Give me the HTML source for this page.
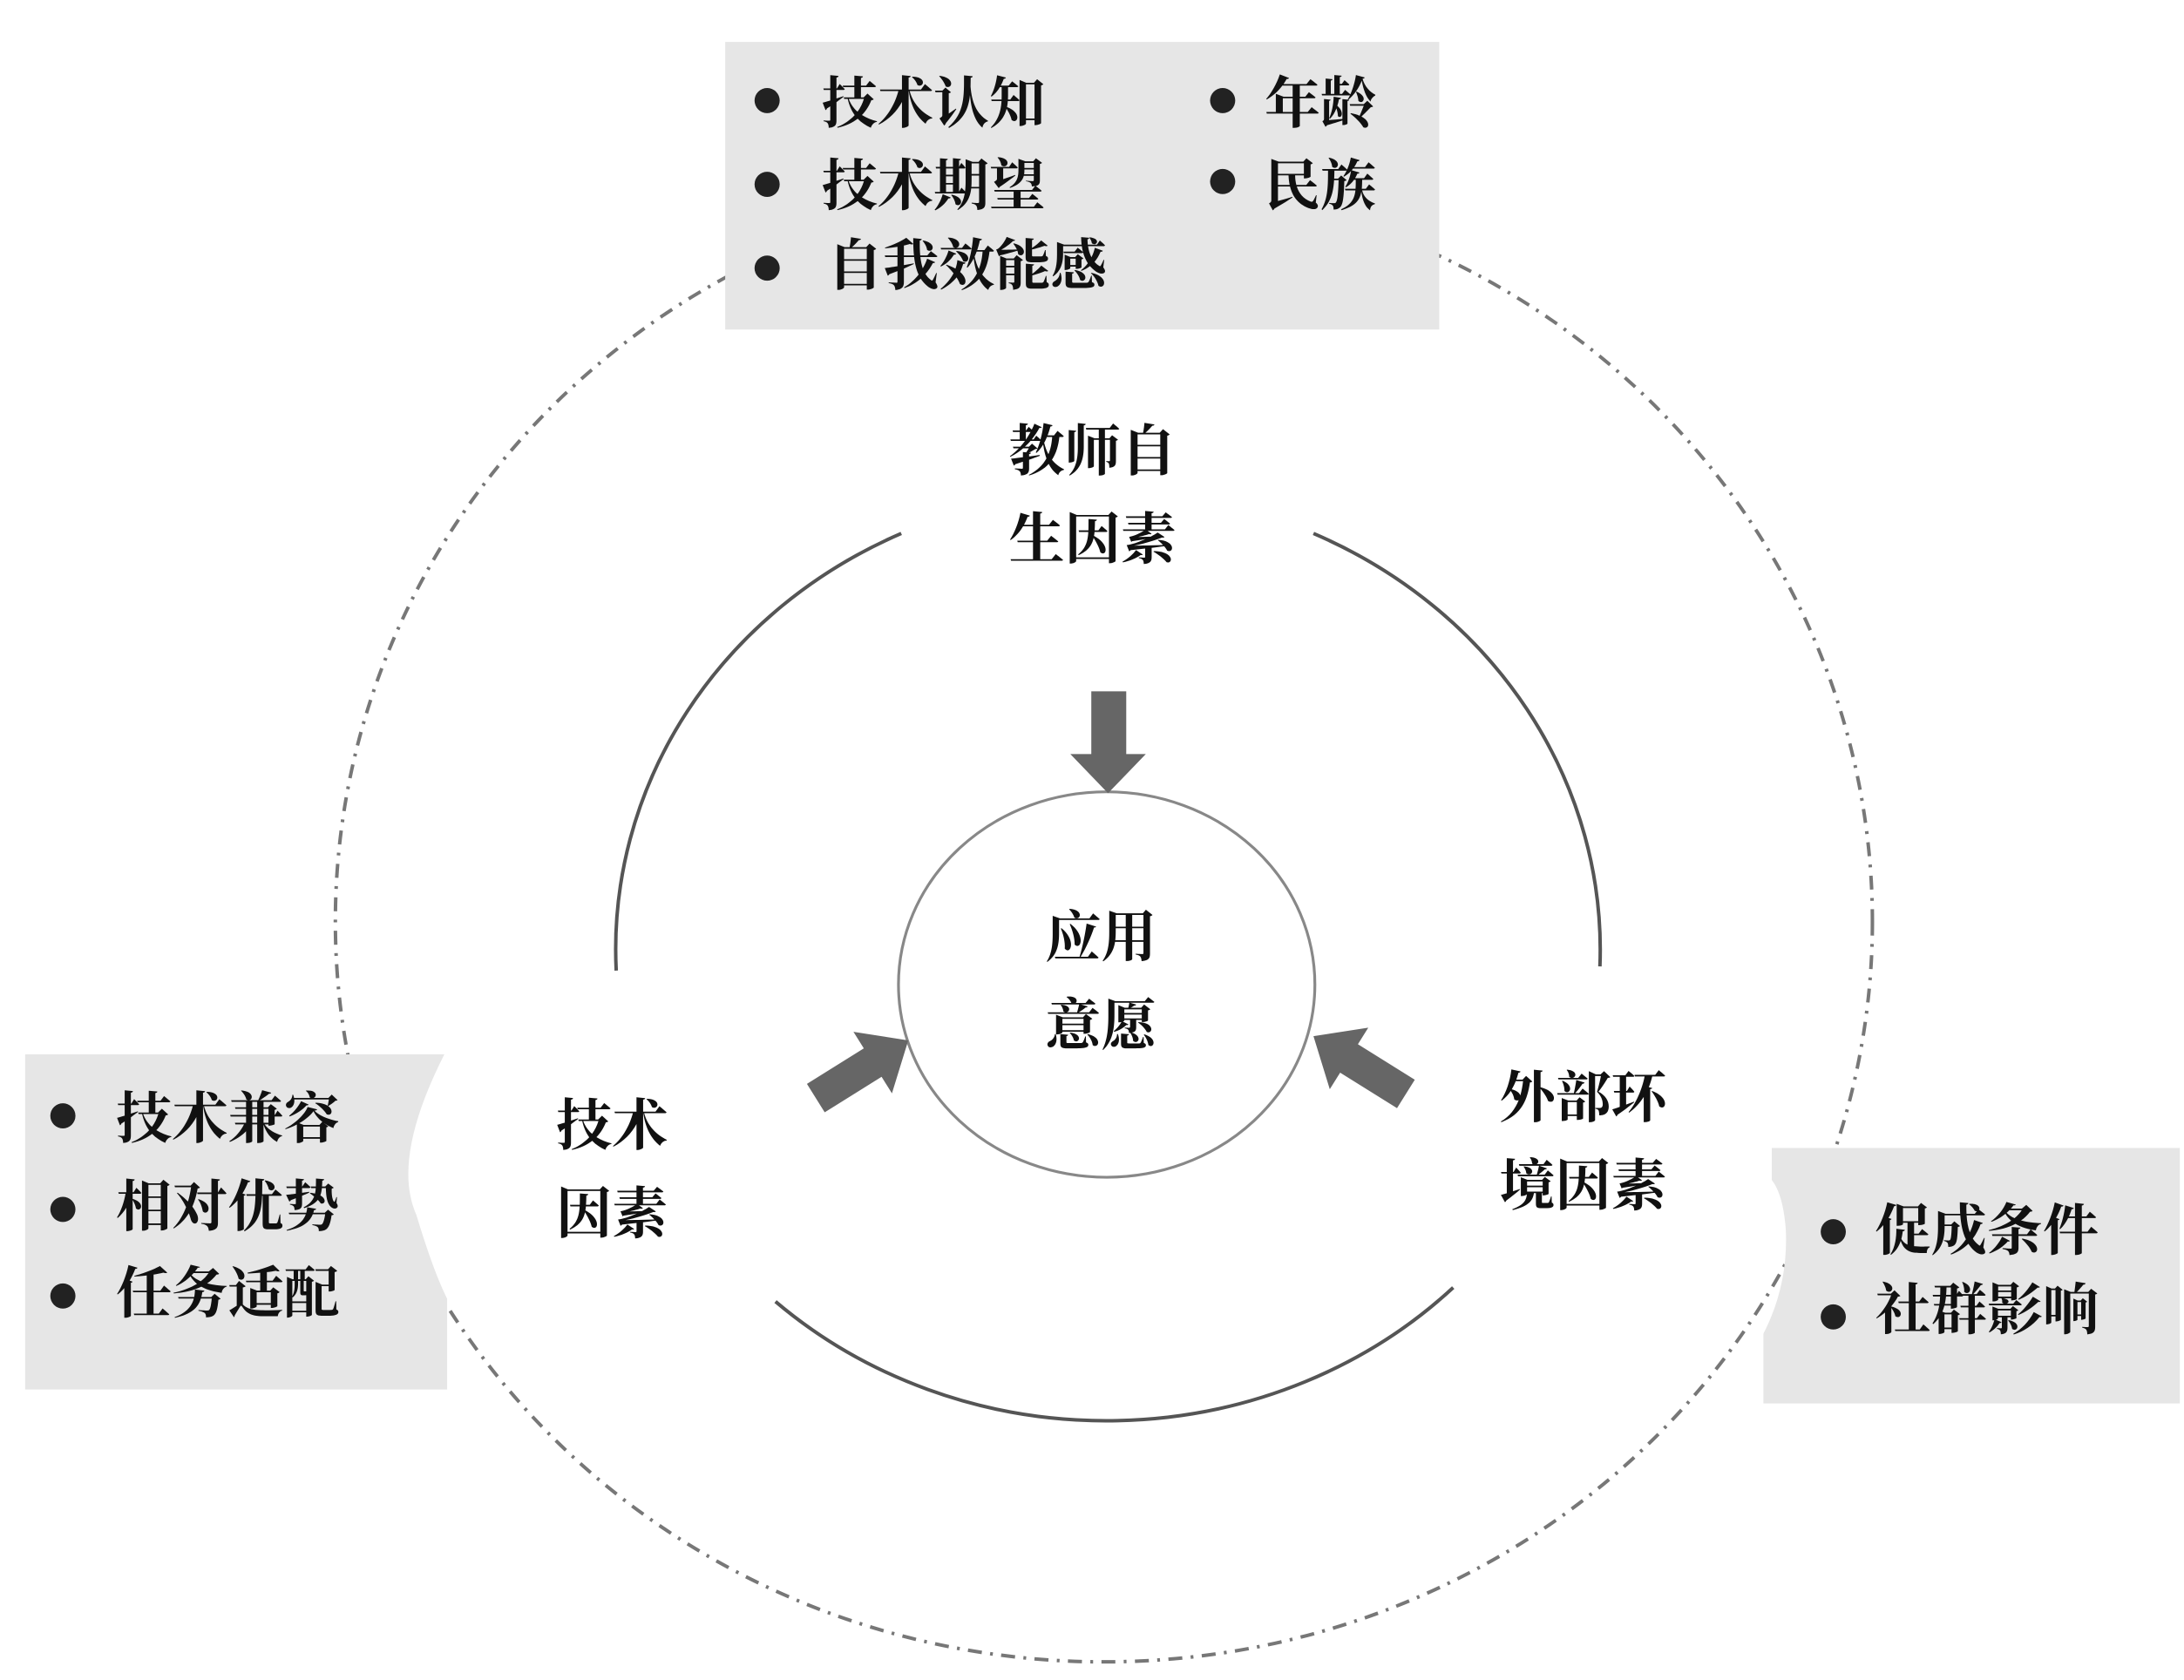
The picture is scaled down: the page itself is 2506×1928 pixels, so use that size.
<!DOCTYPE html>
<html><head><meta charset="utf-8"><style>
html,body{margin:0;padding:0;background:#fff;}
svg{display:block;}
text{font-family:"Liberation Serif","Noto Serif CJK SC",serif;font-weight:bold;fill:#111;}
</style></head><body>
<svg width="2506" height="1928" viewBox="0 0 1563 1203" preserveAspectRatio="none" xmlns="http://www.w3.org/2000/svg">
<ellipse cx="790" cy="660" rx="550" ry="530" fill="none" stroke="#777" stroke-width="2.5" stroke-dasharray="10 6 2 6"/>
<rect x="519" y="30" width="511" height="206" fill="#e6e6e6"/>
<path d="M18 755 L318 755 Q280 830 298 870 Q310 910 320 930 L320 995 L18 995 Z" fill="#e6e6e6"/>
<path d="M1268 822 L1560 822 L1560 1005 L1262 1005 L1262 955 Q1280 920 1278 880 Q1276 855 1268 845 Z" fill="#e6e6e6"/>
<g fill="none" stroke="#555" stroke-width="2.5">
<path d="M645 382 A352 328 0 0 0 441 695"/>
<path d="M940 382 A352 328 0 0 1 1145 692"/>
<path d="M555 932 A352 328 0 0 0 1040 922"/>
</g>
<ellipse cx="792" cy="705" rx="149" ry="138" fill="#fff" stroke="#888" stroke-width="2"/>
<g fill="#666">
<path d="M781 495 L806 495 L806 540 L820 540 L793 568 L766 540 L781 540 Z"/>
<g transform="translate(650,745) rotate(-32)"><path d="M0 0 L-30 -26 L-30 -12 L-78 -12 L-78 12 L-30 12 L-30 26 Z"/></g>
<g transform="translate(940,742) rotate(32)"><path d="M0 0 L30 -26 L30 -12 L78 -12 L78 12 L30 12 L30 26 Z"/></g>
</g>
<g font-size="40">
<text x="722" y="337">教师自</text>
<text x="722" y="400">生因素</text>
<text x="748" y="685">应用</text>
<text x="748" y="748">意愿</text>
<text x="398" y="820">技术</text>
<text x="398" y="883">因素</text>
<text x="1073" y="800">外部环</text>
<text x="1073" y="863">境因素</text>
</g>
<g fill="#222">
<circle cx="549" cy="72" r="9"/><circle cx="549" cy="132" r="9"/><circle cx="549" cy="192" r="9"/>
<circle cx="875" cy="72" r="9"/><circle cx="875" cy="130" r="9"/>
<circle cx="45" cy="799" r="9"/><circle cx="45" cy="866" r="9"/><circle cx="45" cy="928" r="9"/>
<circle cx="1312" cy="882" r="9"/><circle cx="1312" cy="943" r="9"/>
</g>
<g font-size="40">
<text x="588" y="88">技术认知</text>
<text x="588" y="147">技术期望</text>
<text x="592" y="204">自我效能感</text>
<text x="905" y="88">年龄</text>
<text x="905" y="147">民族</text>
<text x="83" y="815">技术兼容</text>
<text x="83" y="878">相对优势</text>
<text x="83" y="940">任务适配</text>
<text x="1342" y="895">促成条件</text>
<text x="1342" y="952">社群影响</text>
</g>
</svg>
</body></html>
